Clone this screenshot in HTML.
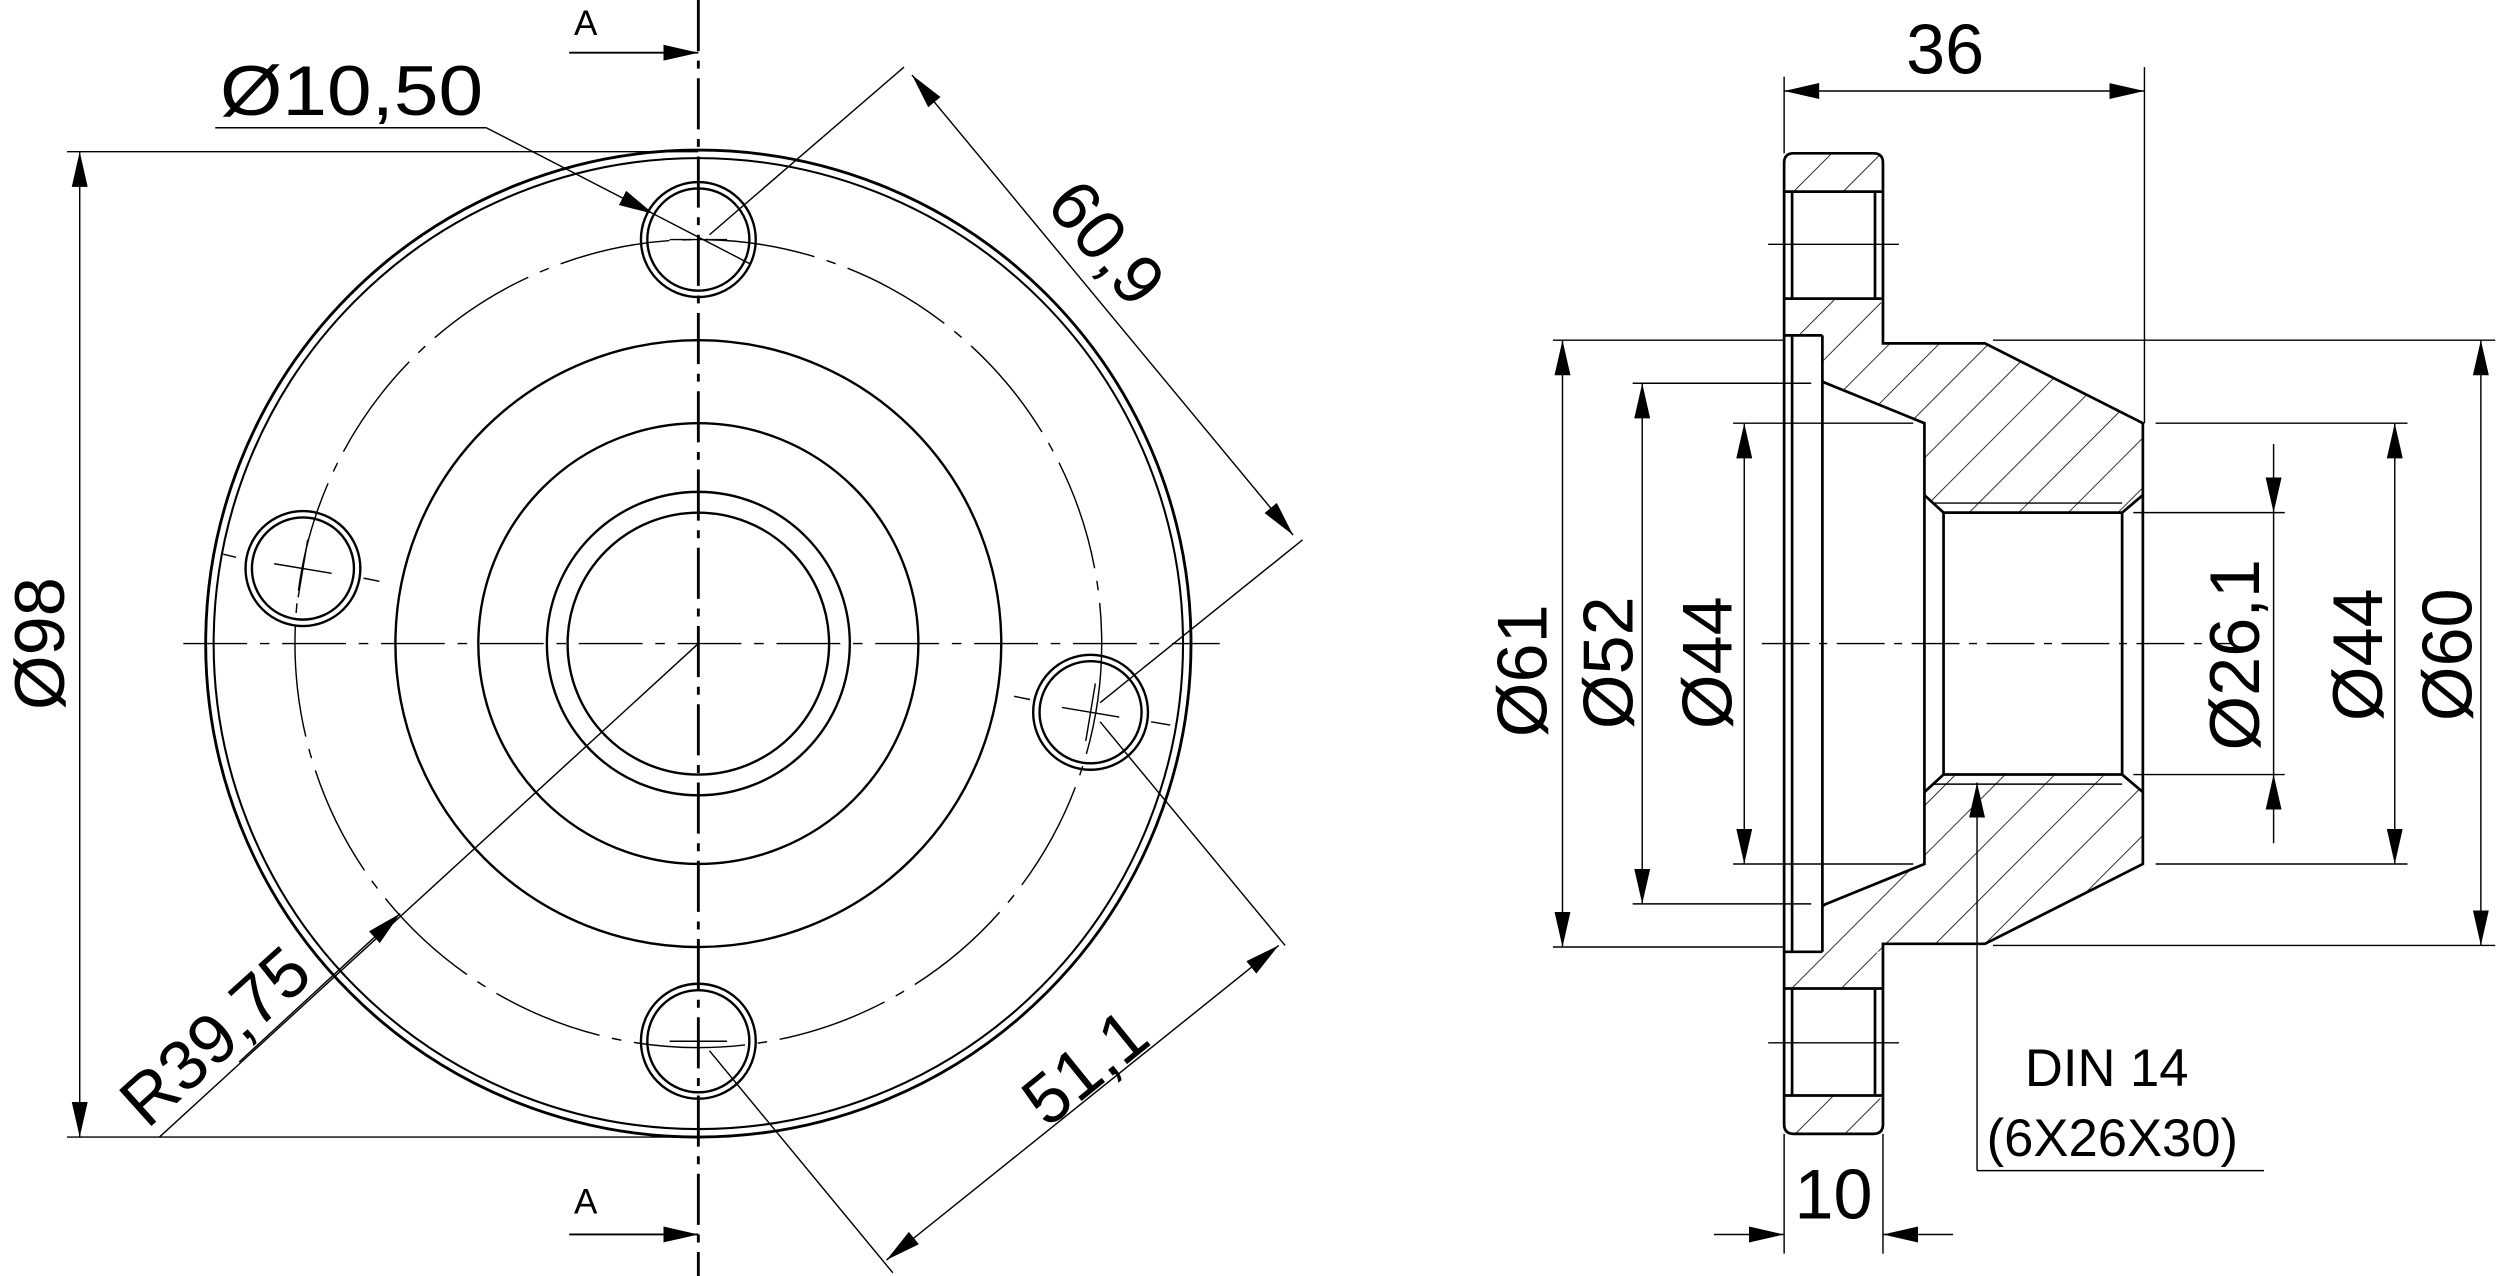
<!DOCTYPE html>
<html><head><meta charset="utf-8"><style>html,body{margin:0;padding:0;background:#fff}svg{display:block}text{font-family:"Liberation Sans","DejaVu Sans",sans-serif;fill:#000}</style></head>
<body>
<svg width="2500" height="1276" viewBox="0 0 1568 799" preserveAspectRatio="none" xmlns="http://www.w3.org/2000/svg">
<defs>
<marker id="ar" markerUnits="userSpaceOnUse" markerWidth="24" markerHeight="12" refX="22" refY="5" orient="auto"><path d="M0,0 L22,5 L0,10 Z" fill="#000"/></marker>
<marker id="as" markerUnits="userSpaceOnUse" markerWidth="24" markerHeight="12" refX="0" refY="5" orient="auto"><path d="M22,0 L0,5 L22,10 Z" fill="#000"/></marker>
<pattern id="h" patternUnits="userSpaceOnUse" width="22" height="22" patternTransform="rotate(45)"><line x1="0" y1="0" x2="0" y2="22" stroke="#000" stroke-width="1"/></pattern>
</defs>
<g fill="none" stroke="#000">
<circle cx="438" cy="403" r="309" stroke-width="1.8"/>
<circle cx="438" cy="403" r="304" stroke-width="1.3"/>
<circle cx="438" cy="403" r="190" stroke-width="1.5"/>
<circle cx="438" cy="403" r="138" stroke-width="1.5"/>
<circle cx="438" cy="403" r="95" stroke-width="1.5"/>
<circle cx="438" cy="403" r="82" stroke-width="1.5"/>
<circle cx="438" cy="403" r="253" stroke-width="0.9" stroke-dasharray="70,8,6,8"/>
<g stroke-width="1.5">
<circle cx="438" cy="150" r="36"/><circle cx="438" cy="150" r="32"/>
<circle cx="190" cy="356" r="36"/><circle cx="190" cy="356" r="32"/>
<circle cx="684" cy="446" r="36"/><circle cx="684" cy="446" r="32"/>
<circle cx="438" cy="652" r="36"/><circle cx="438" cy="652" r="32"/>
</g>
<g stroke-width="0.9">
<line x1="420" y1="150" x2="456" y2="150"/>
<line x1="172" y1="353" x2="208" y2="359"/><line x1="193" y1="338" x2="187" y2="374"/>
<line x1="140" y1="347" x2="148" y2="349"/><line x1="228" y1="362" x2="238" y2="364"/>
<line x1="666" y1="443" x2="702" y2="449"/><line x1="687" y1="428" x2="681" y2="464"/>
<line x1="636" y1="436" x2="646" y2="438"/><line x1="722" y1="452" x2="734" y2="454"/>
<line x1="420" y1="652" x2="456" y2="652"/>
<line x1="115" y1="403" x2="765" y2="403" stroke-dasharray="40,8,6,8"/>
</g>
<line x1="438" y1="0" x2="438" y2="799" stroke-width="1.8" stroke-dasharray="32,6,5,6"/>
<line x1="357" y1="33" x2="438" y2="33" stroke-width="1.2" marker-end="url(#ar)"/>
<line x1="357" y1="773" x2="438" y2="773" stroke-width="1.2" marker-end="url(#ar)"/>
<g stroke-width="0.9">
<line x1="42" y1="95" x2="438" y2="95"/><line x1="42" y1="712" x2="438" y2="712"/>
<line x1="50" y1="95" x2="50" y2="712" marker-start="url(#as)" marker-end="url(#ar)"/>
<line x1="135" y1="80" x2="305" y2="80"/>
<line x1="305" y1="80" x2="410" y2="134" marker-end="url(#ar)"/>
<line x1="410" y1="134" x2="470" y2="165"/>
<line x1="445" y1="147" x2="567" y2="42"/>
<line x1="690" y1="440" x2="817" y2="338"/>
<line x1="572" y1="47" x2="811" y2="335" marker-start="url(#as)" marker-end="url(#ar)"/>
<line x1="445" y1="658" x2="560" y2="797"/>
<line x1="690" y1="452" x2="806" y2="592"/>
<line x1="556" y1="789" x2="802" y2="592" marker-start="url(#as)" marker-end="url(#ar)"/>
<line x1="438" y1="403" x2="100" y2="712"/>
<line x1="150" y1="665" x2="251" y2="572" marker-end="url(#ar)"/>
</g>

<g stroke="none" fill="url(#h)">
<rect x="1119" y="96" width="62" height="24" rx="6"/>
<rect x="1119" y="187" width="62" height="23" rx="6"/>
<polygon points="1143,210 1181,210 1181,215 1245,215 1344,265 1344,310 1331,321 1219,321 1207,310 1207,265 1143,239"/>
<rect x="1119" y="686" width="62" height="24" rx="6"/>
<rect x="1119" y="596" width="62" height="23" rx="6"/>
<polygon points="1143,596 1181,596 1181,591 1245,591 1344,541 1344,496 1331,485 1219,485 1207,496 1207,541 1143,567"/>
</g>
<g stroke-width="1.7">
<path d="M1119,102 Q1119,96 1125,96 L1175,96 Q1181,96 1181,102 L1181,215 L1245,215 L1344,265 L1344,541 L1245,591 L1181,591 L1181,704 Q1181,710 1175,710 L1125,710 Q1119,710 1119,704 Z"/>
<line x1="1119" y1="120" x2="1181" y2="120"/><line x1="1119" y1="187" x2="1181" y2="187"/>
<line x1="1124" y1="120" x2="1124" y2="187"/><line x1="1176" y1="120" x2="1176" y2="187"/>
<line x1="1119" y1="619" x2="1181" y2="619"/><line x1="1119" y1="686" x2="1181" y2="686"/>
<line x1="1124" y1="619" x2="1124" y2="686"/><line x1="1176" y1="619" x2="1176" y2="686"/>
<line x1="1119" y1="210" x2="1143" y2="210"/><line x1="1119" y1="596" x2="1143" y2="596"/>
<line x1="1124" y1="210" x2="1124" y2="596"/>
<line x1="1143" y1="210" x2="1143" y2="596"/>
<polyline points="1143,239 1207,265 1207,541 1143,567"/>
<polyline points="1207,310 1219,321 1331,321 1344,310"/>
<polyline points="1207,496 1219,485 1331,485 1344,496"/>
<line x1="1219" y1="321" x2="1219" y2="485"/><line x1="1331" y1="321" x2="1331" y2="485"/>
</g>
<g stroke-width="0.9">
<line x1="1212" y1="315" x2="1331" y2="315"/><line x1="1212" y1="491" x2="1331" y2="491"/>
<line x1="1109" y1="153" x2="1191" y2="153"/><line x1="1109" y1="653" x2="1191" y2="653"/>
<line x1="1105" y1="403" x2="1400" y2="403" stroke-dasharray="30,6,5,6"/>
<line x1="1119" y1="48" x2="1119" y2="96"/><line x1="1345" y1="42" x2="1345" y2="265"/>
<line x1="1119" y1="57" x2="1345" y2="57" marker-start="url(#as)" marker-end="url(#ar)"/>
<line x1="1119" y1="710" x2="1119" y2="785"/><line x1="1181" y1="710" x2="1181" y2="785"/>
<line x1="1075" y1="773" x2="1119" y2="773" marker-end="url(#ar)"/>
<line x1="1225" y1="773" x2="1181" y2="773" marker-end="url(#ar)"/>
<line x1="974" y1="213" x2="1119" y2="213"/><line x1="974" y1="593" x2="1119" y2="593"/>
<line x1="980" y1="213" x2="980" y2="593" marker-start="url(#as)" marker-end="url(#ar)"/>
<line x1="1024" y1="240" x2="1136" y2="240"/><line x1="1024" y1="566" x2="1136" y2="566"/>
<line x1="1030" y1="240" x2="1030" y2="566" marker-start="url(#as)" marker-end="url(#ar)"/>
<line x1="1087" y1="265" x2="1200" y2="265"/><line x1="1087" y1="541" x2="1200" y2="541"/>
<line x1="1094" y1="265" x2="1094" y2="541" marker-start="url(#as)" marker-end="url(#ar)"/>
<line x1="1250" y1="213" x2="1565" y2="213"/><line x1="1250" y1="592" x2="1565" y2="592"/>
<line x1="1556" y1="213" x2="1556" y2="592" marker-start="url(#as)" marker-end="url(#ar)"/>
<line x1="1352" y1="265" x2="1510" y2="265"/><line x1="1352" y1="541" x2="1510" y2="541"/>
<line x1="1502" y1="265" x2="1502" y2="541" marker-start="url(#as)" marker-end="url(#ar)"/>
<line x1="1338" y1="321" x2="1433" y2="321"/><line x1="1338" y1="485" x2="1433" y2="485"/>
<line x1="1426" y1="278" x2="1426" y2="321" marker-end="url(#ar)"/>
<line x1="1426" y1="528" x2="1426" y2="485" marker-end="url(#ar)"/>
<line x1="1426" y1="321" x2="1426" y2="485"/>
<polyline points="1240,733 1420,733"/>
<line x1="1240" y1="733" x2="1240" y2="490" marker-end="url(#ar)"/>
</g>
</g>
<g font-size="44">
<text x="360" y="22" font-size="22">A</text>
<text x="360" y="760" font-size="22">A</text>
<text x="138" y="72" textLength="165" lengthAdjust="spacingAndGlyphs">Ø10,50</text>
<text transform="translate(40,403) rotate(-90)" text-anchor="middle">Ø98</text>
<text transform="translate(694,152) rotate(50)" y="15" text-anchor="middle">60,9</text>
<text transform="translate(690,680) rotate(-39)" text-anchor="middle">51,1</text>
<text transform="translate(145,660) rotate(-42)" text-anchor="middle">R39,75</text>
<text x="1220" y="46" text-anchor="middle">36</text>
<text x="1150" y="763" text-anchor="middle">10</text>
<text transform="translate(970,420) rotate(-90)" text-anchor="middle">Ø61</text>
<text transform="translate(1024,415) rotate(-90)" text-anchor="middle">Ø52</text>
<text transform="translate(1086,415) rotate(-90)" text-anchor="middle">Ø44</text>
<text transform="translate(1417,410) rotate(-90)" text-anchor="middle">Ø26,1</text>
<text transform="translate(1494,410) rotate(-90)" text-anchor="middle">Ø44</text>
<text transform="translate(1550,410) rotate(-90)" text-anchor="middle">Ø60</text>
<text x="1270" y="680" font-size="33">DIN 14</text>
<text x="1246" y="724" font-size="33">(6X26X30)</text>
</g>
</svg>
</body></html>
